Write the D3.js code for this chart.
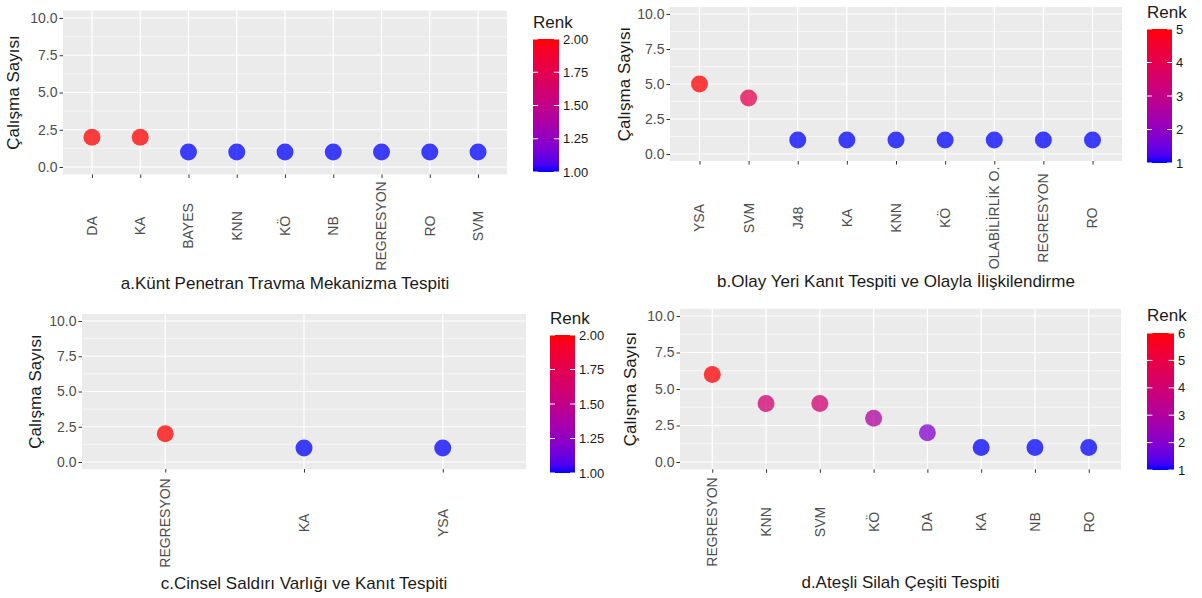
<!DOCTYPE html>
<html lang="tr">
<head>
<meta charset="UTF-8">
<title>Çalışma Sayısı</title>
<script src="https://cdn.jsdelivr.net/npm/d3@7"></script>
<style>
  body { margin: 0; background: #fff; }
  svg { font-family: "Liberation Sans", Arial, sans-serif; }
  .tick-lab { fill: #4d4d4d; font-size: 14px; }
  .ttl { fill: #1a1a1a; font-size: 17px; }
  .leg-lab { fill: #1a1a1a; font-size: 13px; }
</style>
</head>
<body>
<svg id="chart" width="1202" height="598"></svg>
<script>

// ---- data ----
const catsA = ["DA", "KA", "BAYES", "KNN", "KÖ", "NB", "REGRESYON", "RO", "SVM"];
const valsA = [2, 2, 1, 1, 1, 1, 1, 1, 1];
const catsB = ["YSA", "SVM", "J48", "KA", "KNN", "KÖ", "OLABİLİRLİK O.", "REGRESYON", "RO"];
const valsB = [5, 4, 1, 1, 1, 1, 1, 1, 1];
const catsC = ["REGRESYON", "KA", "YSA"];
const valsC = [2, 1, 1];
const catsD = ["REGRESYON", "KNN", "SVM", "KÖ", "DA", "KA", "NB", "RO"];
const valsD = [6, 4, 4, 3, 2, 1, 1, 1];

const yTicks = [0, 2.5, 5, 7.5, 10];
const yMinor = [1.25, 3.75, 6.25, 8.75];
const legTicksA = [1, 1.25, 1.5, 1.75, 2];
const legTicksB = [1, 2, 3, 4, 5];
const legTicksC = [1, 1.25, 1.5, 1.75, 2];
const legTicksD = [1, 2, 3, 4, 5, 6];

const titles = [
  "a.Künt Penetran Travma Mekanizma Tespiti",
  "b.Olay Yeri Kanıt Tespiti ve Olayla İlişkilendirme",
  "c.Cinsel Saldırı Varlığı ve Kanıt Tespiti",
  "d.Ateşli Silah Çeşiti Tespiti"
];
const yTitle = "Çalışma Sayısı";
const legTitle = "Renk";

// ---- layout (pixel positions of each panel) ----
const panels = [
  {cats: catsA, vals: valsA, leg: legTicksA, fmt: d3.format(".2f"), title: titles[0],
   left: 63, right: 507, y10: 18, y0: 167, labY: 226, titleY: 289, yTitleX: 19,
   lx: 533, lw: 26, ltop: 39, lbot: 172, lTitleY: 28},
  {cats: catsB, vals: valsB, leg: legTicksB, fmt: d3.format("d"), title: titles[1],
   left: 670, right: 1122, y10: 14, y0: 154, labY: 218, titleY: 287, yTitleX: 630,
   lx: 1147, lw: 25, ltop: 29, lbot: 163, lTitleY: 18},
  {cats: catsC, vals: valsC, leg: legTicksC, fmt: d3.format(".2f"), title: titles[2],
   left: 82, right: 526, y10: 321, y0: 462, labY: 523, titleY: 589, yTitleX: 41,
   lx: 550, lw: 25, ltop: 335, lbot: 473, lTitleY: 324},
  {cats: catsD, vals: valsD, leg: legTicksD, fmt: d3.format("d"), title: titles[3],
   left: 680, right: 1121, y10: 316, y0: 462, labY: 522, titleY: 588, yTitleX: 636,
   lx: 1147, lw: 27, ltop: 333, lbot: 470, lTitleY: 321}
];

const svg = d3.select("#chart");
const defs = svg.append("defs");

panels.forEach(function(p, i) {
    const g = svg.append("g");
    const unit = (p.y0 - p.y10) / 10;
    const top = p.y10 - unit * 0.5, bottom = p.y0 + unit * 0.5;

    const x = d3.scalePoint().domain(p.cats).range([p.left, p.right])
        .padding(0.6);
    const y = d3.scaleLinear().domain([-0.5, 10.5]).range([bottom, top]);
    const ext = d3.extent(p.vals);
    const col = d3.scaleLinear().domain(ext).range(["blue", "red"])
        .interpolate(d3.interpolateLab);

    // panel background
    g.append("rect")
        .attr("x", p.left).attr("y", top)
        .attr("width", p.right - p.left).attr("height", bottom - top)
        .attr("fill", "#ebebeb");

    // grid
    g.selectAll("line.minor").data(yMinor).enter().append("line")
        .attr("x1", p.left).attr("x2", p.right)
        .attr("y1", d => y(d)).attr("y2", d => y(d))
        .attr("stroke", "#fff").attr("stroke-width", 0.6);
    g.selectAll("line.majy").data(yTicks).enter().append("line")
        .attr("x1", p.left).attr("x2", p.right)
        .attr("y1", d => y(d)).attr("y2", d => y(d))
        .attr("stroke", "#fff").attr("stroke-width", 1.2);
    g.selectAll("line.majx").data(p.cats).enter().append("line")
        .attr("x1", d => x(d)).attr("x2", d => x(d))
        .attr("y1", top).attr("y2", bottom)
        .attr("stroke", "#fff").attr("stroke-width", 1.2);

    // y axis
    const ya = g.append("g").attr("transform", "translate(" + p.left + ",0)")
        .call(d3.axisLeft(y).tickValues(yTicks).tickFormat(d3.format(".1f"))
            .tickSize(3.5).tickPadding(2));
    ya.select(".domain").remove();
    ya.selectAll("line").attr("stroke", "#333");
    ya.selectAll("text").attr("class", "tick-lab").attr("font-family", null)
        .attr("font-size", null).attr("fill", null);

    // x axis ticks
    const xa = g.append("g").attr("transform", "translate(0," + bottom + ")")
        .call(d3.axisBottom(x).tickSize(3.5).tickFormat(""));
    xa.select(".domain").remove();
    xa.selectAll("line").attr("stroke", "#333");

    // x labels, rotated
    g.selectAll("text.xl").data(p.cats).enter().append("text")
        .attr("class", "tick-lab")
        .attr("transform", d => "translate(" + x(d) + "," + p.labY + ") rotate(-90)")
        .attr("text-anchor", "middle")
        .attr("dy", "0.35em")
        .text(d => d);

    // points
    g.selectAll("circle").data(p.vals).enter().append("circle")
        .attr("cx", (d, j) => x(p.cats[j]))
        .attr("cy", d => y(d))
        .attr("r", 8.5)
        .attr("fill", d => col(d))
        .attr("fill-opacity", 0.75);

    // titles
    g.append("text").attr("class", "ttl")
        .attr("x", (p.left + p.right) / 2).attr("y", p.titleY)
        .attr("text-anchor", "middle").text(p.title);
    g.append("text").attr("class", "ttl")
        .attr("transform", "translate(" + p.yTitleX + "," + ((top + bottom) / 2) + ") rotate(-90)")
        .attr("text-anchor", "middle").text(yTitle);

    // colour bar legend
    const gid = "grad" + i;
    const grad = defs.append("linearGradient").attr("id", gid)
        .attr("x1", 0).attr("y1", 1).attr("x2", 0).attr("y2", 0);
    d3.range(0, 1.0001, 0.05).forEach(function(t) {
        grad.append("stop").attr("offset", t)
            .attr("stop-color", col(ext[0] + t * (ext[1] - ext[0])));
    });
    const ly = d3.scaleLinear().domain(ext).range([p.lbot, p.ltop]);
    g.append("text").attr("class", "ttl")
        .attr("x", p.lx).attr("y", p.lTitleY).text(legTitle);
    g.append("rect")
        .attr("x", p.lx).attr("y", p.ltop)
        .attr("width", p.lw).attr("height", p.lbot - p.ltop)
        .attr("fill", "url(#" + gid + ")");
    const tl = p.lw / 5;
    g.selectAll("line.lt1").data(p.leg).enter().append("line")
        .attr("x1", p.lx).attr("x2", p.lx + tl)
        .attr("y1", d => ly(d)).attr("y2", d => ly(d))
        .attr("stroke", "#fff").attr("stroke-width", 1);
    g.selectAll("line.lt2").data(p.leg).enter().append("line")
        .attr("x1", p.lx + p.lw - tl).attr("x2", p.lx + p.lw)
        .attr("y1", d => ly(d)).attr("y2", d => ly(d))
        .attr("stroke", "#fff").attr("stroke-width", 1);
    g.selectAll("text.ll").data(p.leg).enter().append("text")
        .attr("class", "leg-lab")
        .attr("x", p.lx + p.lw + 4).attr("y", d => ly(d))
        .attr("dy", "0.35em")
        .text(d => p.fmt(d));
});

</script>
</body>
</html>
